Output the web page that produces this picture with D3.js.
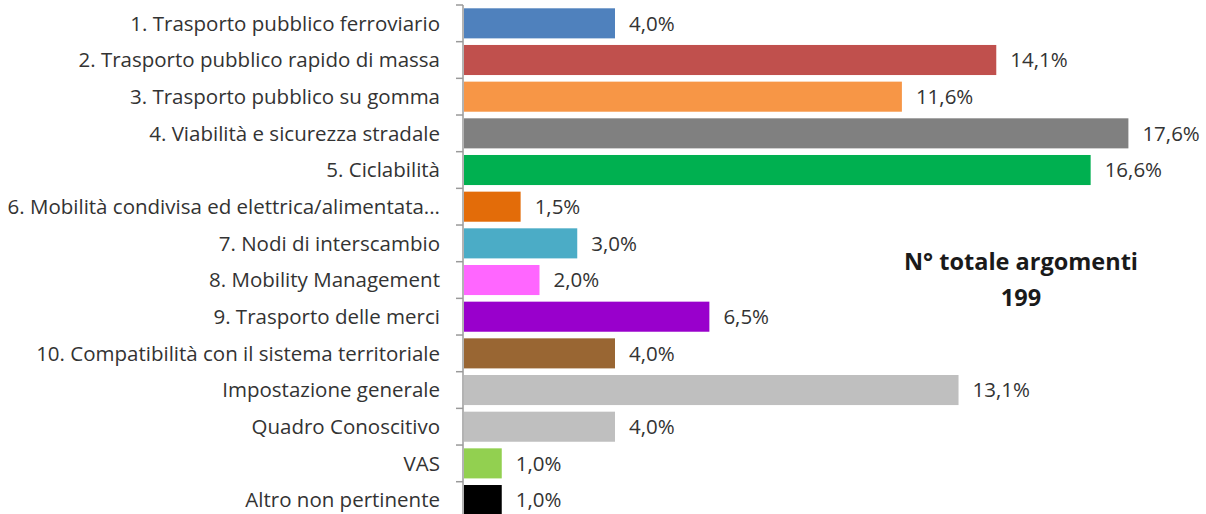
<!DOCTYPE html>
<html><head><meta charset="utf-8">
<script src="https://cdn.jsdelivr.net/npm/d3@7"></script>
<style>html,body{margin:0;padding:0;background:#fff;}svg{display:block;}</style>
</head><body>
<svg id="chart" width="1206" height="514"></svg>
<script>
const categories = [
  "1. Trasporto pubblico ferroviario",
  "2. Trasporto pubblico rapido di massa",
  "3. Trasporto pubblico su gomma",
  "4. Viabilità e sicurezza stradale",
  "5. Ciclabilità",
  "6. Mobilità condivisa ed elettrica/alimentata...",
  "7. Nodi di interscambio",
  "8. Mobility Management",
  "9. Trasporto delle merci",
  "10. Compatibilità con il sistema territoriale",
  "Impostazione generale",
  "Quadro Conoscitivo",
  "VAS",
  "Altro non pertinente"
];
const values = [4.0, 14.1, 11.6, 17.6, 16.6, 1.5, 3.0, 2.0, 6.5, 4.0, 13.1, 4.0, 1.0, 1.0];
const colors = ["#4f81bd","#c0504d","#f79646","#808080","#00b050","#e36c09","#4bacc6","#ff66ff","#9900cc","#996633","#bfbfbf","#bfbfbf","#92d050","#000000"];
const annotation = ["N° totale argomenti", "199"];

const svg = d3.select("#chart");
const axisX = 463;
const x = d3.scaleLinear().domain([0, 18]).range([axisX + 1, axisX + 1 + 18 * 37.75]);
const y = d3.scaleBand().domain(categories).range([5, 5 + 14 * 36.67]).paddingInner(0.18).paddingOuter(0.09);
const font = "'Open Sans', sans-serif";

svg.append("g").selectAll("rect").data(values).join("rect")
  .attr("x", x(0))
  .attr("y", (d, i) => y(categories[i]))
  .attr("width", d => x(d) - x(0))
  .attr("height", y.bandwidth())
  .attr("fill", (d, i) => colors[i]);

const axisG = svg.append("g");
axisG.append("line").attr("x1", axisX).attr("x2", axisX)
  .attr("y1", y.range()[0]).attr("y2", y.range()[1])
  .attr("stroke", "#9a9a9a").attr("stroke-width", 1.5);
const bounds = d3.range(categories.length + 1).map(i => y.range()[0] + i * y.step());
axisG.selectAll("line.tick").data(bounds).join("line").attr("class", "tick")
  .attr("x1", axisX - 7).attr("x2", axisX).attr("y1", d => d).attr("y2", d => d)
  .attr("stroke", "#9a9a9a").attr("stroke-width", 1.5);

svg.append("g").selectAll("text").data(categories).join("text")
  .attr("x", axisX - 23)
  .attr("y", d => y(d) + y.bandwidth() / 2)
  .attr("dy", "0.36em")
  .attr("text-anchor", "end")
  .attr("font-family", font)
  .attr("font-size", 20.5)
  .attr("fill", "#333")
  .text(d => d);

svg.append("g").selectAll("text").data(values).join("text")
  .attr("x", d => x(d) + 14)
  .attr("y", (d, i) => y(categories[i]) + y.bandwidth() / 2)
  .attr("dy", "0.36em")
  .attr("font-family", font)
  .attr("font-size", 20.5)
  .attr("fill", "#333")
  .text(d => d.toFixed(1).replace(".", ",") + "%");

svg.append("g").selectAll("text").data(annotation).join("text")
  .attr("x", 1021)
  .attr("y", (d, i) => 270 + i * 36)
  .attr("text-anchor", "middle")
  .attr("font-family", font)
  .attr("font-weight", "bold")
  .attr("font-size", 23.5)
  .attr("fill", "#1a1a1a")
  .text(d => d);
</script>
</body></html>
